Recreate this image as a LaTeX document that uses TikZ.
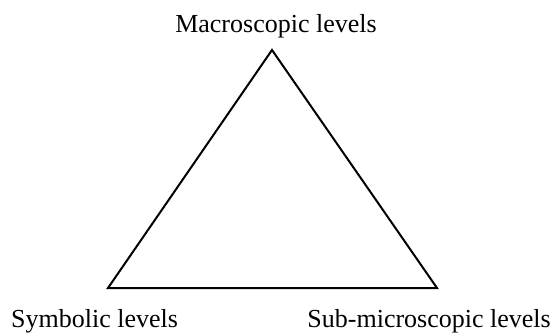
\documentclass[tikz,border=0pt]{standalone}
\usepackage{fontspec}
\setmainfont{Liberation Serif}
\begin{document}
\begin{tikzpicture}[x=1pt,y=1pt,
  lbl/.style={inner sep=0pt,font=\fontsize{26}{30}\selectfont},
  edge/.style={line width=2pt,line join=miter}]
\useasboundingbox (0,0) rectangle (553,335);
\coordinate (top) at (272,285);
\coordinate (bl) at (108,47);
\coordinate (br) at (437,47);
\draw[edge] (top) -- (bl) -- (br) -- cycle;
\node[lbl,anchor=base] (macro) at (276,302) {Macroscopic levels};
\node[lbl,anchor=base west] (sym) at (11,8) {Symbolic levels};
\node[lbl,anchor=base east] (sub) at (551,8) {Sub-microscopic levels};
\end{tikzpicture}
\end{document}
